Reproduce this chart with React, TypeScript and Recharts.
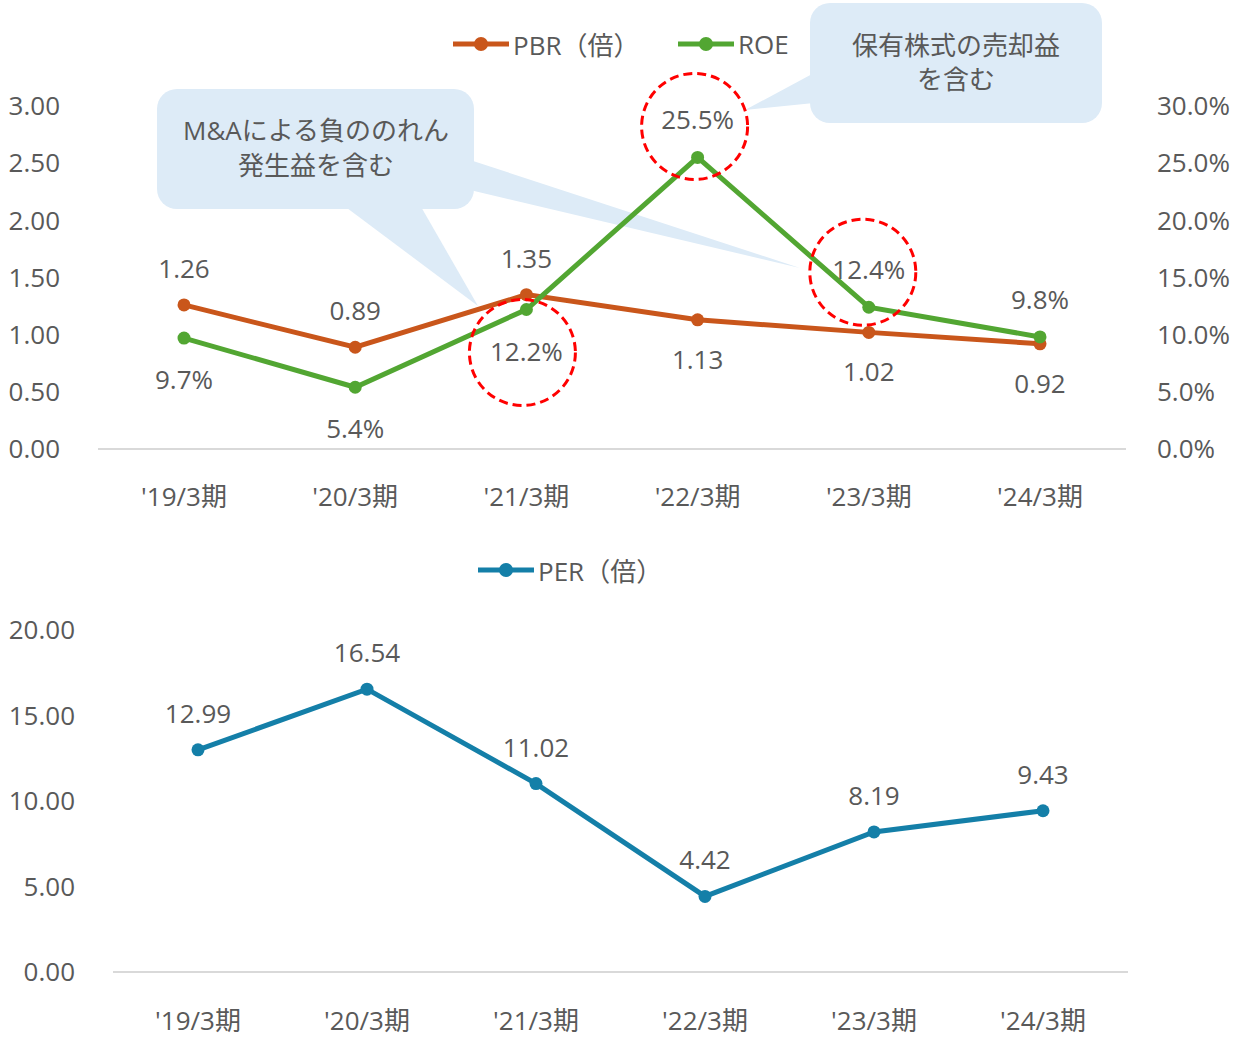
import React from "react";
import { LineChart, Line, XAxis, YAxis, Legend, LabelList } from "recharts";

const categories = ["'19/3期", "'20/3期", "'21/3期", "'22/3期", "'23/3期", "'24/3期"];
const pbrValues = [1.26, 0.89, 1.35, 1.13, 1.02, 0.92];
const roeValues = [9.7, 5.4, 12.2, 25.5, 12.4, 9.8];
const perValues = [12.99, 16.54, 11.02, 4.42, 8.19, 9.43];

const pbrTicks = [0, 0.5, 1, 1.5, 2, 2.5, 3];
const roeTicks = [0, 5, 10, 15, 20, 25, 30];
const perTicks = [0, 5, 10, 15, 20];

// which labels sit above their point
const pbrLabelAbove = [true, true, true, false, false, false];
const roeLabelAbove = [false, false, false, true, true, true];
// ROE points circled in red (offset of circle centre from label centre)
const roeCircles: Record<number, [number, number]> = {
  2: [-4, 2],
  3: [-3, 7],
  4: [-6, 3],
};

const topData = categories.map((name, i) => ({
  name,
  pbr: pbrValues[i],
  roe: roeValues[i],
}));
const bottomData = categories.map((name, i) => ({ name, per: perValues[i] }));

const FONT = "'Open Sans', 'Noto Sans CJK JP', sans-serif";
const TEXT = "#595959";
const PBR_COLOR = "#C9561B";
const ROE_COLOR = "#52A632";
const PER_COLOR = "#147FA8";
const BUBBLE = "#DDEBF7";

const tickStyle = { fill: TEXT, fontSize: 26, fontFamily: FONT };

const makeLabel =
  (above: boolean[], fmt: (v: number) => string, up: number, down: number, circles?: Record<number, [number, number]>) =>
  (props: any) => {
    const { x, y, value, index } = props;
    const ly = above[index] ? y - up : y + down;
    const c = circles ? circles[index] : undefined;
    return (
      <g>
        <text
          x={x}
          y={ly}
          textAnchor="middle"
          dominantBaseline="central"
          fill={TEXT}
          fontSize={26}
          fontFamily={FONT}
        >
          {fmt(Number(value))}
        </text>
        {c && (
          <circle
            cx={x + c[0]}
            cy={ly + c[1]}
            r={53}
            fill="none"
            stroke="#FF0000"
            strokeWidth={3}
            strokeDasharray="9 5"
          />
        )}
      </g>
    );
  };

const LegendItems = ({ items }: { items: { label: string; color: string; left: number }[] }) => (
  <div style={{ position: "relative", width: 1239, height: 44 }}>
    {items.map((it) => (
      <div
        key={it.label}
        style={{
          position: "absolute",
          left: it.left,
          top: 0,
          height: 44,
          display: "flex",
          alignItems: "center",
          fontFamily: FONT,
          fontSize: 26,
          color: TEXT,
        }}
      >
        <svg width={56} height={16} style={{ marginRight: 4 }}>
          <line x1={0} y1={8} x2={56} y2={8} stroke={it.color} strokeWidth={5} strokeLinecap="round" />
          <circle cx={28} cy={8} r={7} fill={it.color} />
        </svg>
        <span>{it.label}</span>
      </div>
    ))}
  </div>
);

const Bubbles = () => (
  <svg width={1239} height={530} style={{ position: "absolute", left: 0, top: 0 }}>
    {/* M&A bubble */}
    <rect x={157} y={89} width={317} height={120} rx={20} fill={BUBBLE} />
    <polygon points="343,205 420,205 478,306" fill={BUBBLE} />
    <polygon points="470,160 470,190 800,268" fill={BUBBLE} />
    <text x={316} y={130} textAnchor="middle" dominantBaseline="central" fill={TEXT} fontSize={26} fontFamily={FONT}>
      M&amp;Aによる負ののれん
    </text>
    <text x={316} y={165} textAnchor="middle" dominantBaseline="central" fill={TEXT} fontSize={26} fontFamily={FONT}>
      発生益を含む
    </text>
    {/* 保有株式 bubble */}
    <rect x={810} y={3} width={292} height={120} rx={20} fill={BUBBLE} />
    <polygon points="814,73 814,103 745,110" fill={BUBBLE} />
    <text x={956} y={45} textAnchor="middle" dominantBaseline="central" fill={TEXT} fontSize={26} fontFamily={FONT}>
      保有株式の売却益
    </text>
    <text x={956} y={79} textAnchor="middle" dominantBaseline="central" fill={TEXT} fontSize={26} fontFamily={FONT}>
      を含む
    </text>
  </svg>
);

export default function App() {
  return (
    <div style={{ position: "absolute", left: 0, top: 0, width: 1239, height: 1038, background: "#fff" }}>
      <div style={{ position: "absolute", left: 0, top: 0, width: 1239, height: 530 }}>
        <Bubbles />
        <div style={{ position: "absolute", left: 0, top: 0 }}>
          <LineChart width={1239} height={530} data={topData} margin={{ top: 62, right: 0, bottom: 0, left: 0 }}>
            <Legend
              verticalAlign="top"
              wrapperStyle={{ top: 22, left: 0, width: 1239, height: 44 }}
              content={() => (
                <LegendItems
                  items={[
                    { label: "PBR（倍）", color: PBR_COLOR, left: 453 },
                    { label: "ROE", color: ROE_COLOR, left: 678 },
                  ]}
                />
              )}
            />
            <XAxis
              dataKey="name"
              height={81}
              padding={{ left: 86, right: 86 }}
              tickLine={false}
              tickSize={6}
              tickMargin={33}
              axisLine={{ stroke: "#D9D9D9", strokeWidth: 2 }}
              tick={tickStyle}
            />
            <YAxis
              yAxisId="left"
              width={98}
              domain={[0, 3]}
              ticks={pbrTicks}
              tickFormatter={(v: number) => v.toFixed(2)}
              axisLine={false}
              tickLine={false}
              tickSize={6}
              tickMargin={32}
              tick={tickStyle}
            />
            <YAxis
              yAxisId="right"
              orientation="right"
              width={113}
              domain={[0, 30]}
              ticks={roeTicks}
              tickFormatter={(v: number) => v.toFixed(1) + "%"}
              axisLine={false}
              tickLine={false}
              tickSize={6}
              tickMargin={25}
              tick={tickStyle}
            />
            <Line
              yAxisId="left"
              dataKey="pbr"
              stroke={PBR_COLOR}
              strokeWidth={5}
              dot={{ r: 6.5, fill: PBR_COLOR, stroke: PBR_COLOR, strokeWidth: 0 }}
              isAnimationActive={false}
            >
              <LabelList dataKey="pbr" content={makeLabel(pbrLabelAbove, (v) => v.toFixed(2), 37, 39)} />
            </Line>
            <Line
              yAxisId="right"
              dataKey="roe"
              stroke={ROE_COLOR}
              strokeWidth={5}
              dot={{ r: 6.5, fill: ROE_COLOR, stroke: ROE_COLOR, strokeWidth: 0 }}
              isAnimationActive={false}
            >
              <LabelList
                dataKey="roe"
                content={makeLabel(roeLabelAbove, (v) => v.toFixed(1) + "%", 38, 41, roeCircles)}
              />
            </Line>
          </LineChart>
        </div>
      </div>

      <div style={{ position: "absolute", left: 0, top: 530 }}>
        <LineChart width={1239} height={508} data={bottomData} margin={{ top: 56, right: 111, bottom: 0, left: 0 }}>
          <Legend
            verticalAlign="top"
            wrapperStyle={{ top: 18, left: 0, width: 1239, height: 44 }}
            content={() => <LegendItems items={[{ label: "PER（倍）", color: PER_COLOR, left: 478 }]} />}
          />
          <XAxis
            dataKey="name"
            height={66}
            padding={{ left: 85, right: 85 }}
            tickLine={false}
            tickSize={6}
            tickMargin={34}
            axisLine={{ stroke: "#D9D9D9", strokeWidth: 2 }}
            tick={tickStyle}
          />
          <YAxis
            width={113}
            domain={[0, 20]}
            ticks={perTicks}
            tickFormatter={(v: number) => v.toFixed(2)}
            axisLine={false}
            tickLine={false}
            tickSize={6}
            tickMargin={32}
            tick={tickStyle}
          />
          <Line
            dataKey="per"
            stroke={PER_COLOR}
            strokeWidth={5}
            dot={{ r: 6.5, fill: PER_COLOR, stroke: PER_COLOR, strokeWidth: 0 }}
            isAnimationActive={false}
          >
            <LabelList dataKey="per" content={makeLabel([true, true, true, true, true, true], (v) => v.toFixed(2), 37, 40)} />
          </Line>
        </LineChart>
      </div>
    </div>
  );
}
